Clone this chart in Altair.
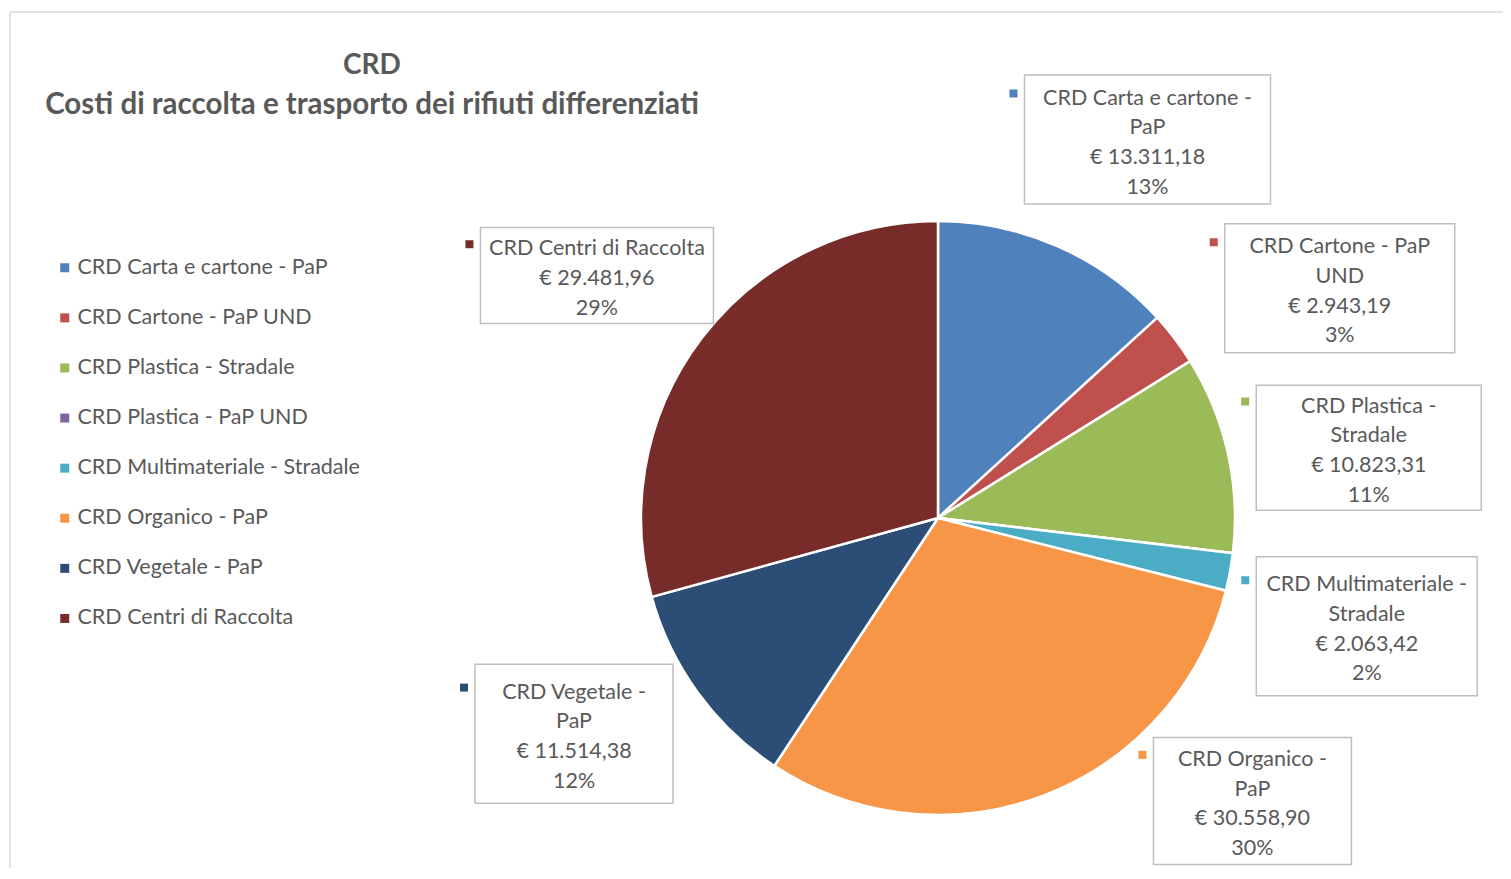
import math
import altair as alt
import pandas as pd

# ---------------- data ----------------
categories = [
    "CRD Carta e cartone - PaP",
    "CRD Cartone - PaP UND",
    "CRD Plastica - Stradale",
    "CRD Plastica - PaP UND",
    "CRD Multimateriale - Stradale",
    "CRD Organico - PaP",
    "CRD Vegetale - PaP",
    "CRD Centri di Raccolta",
]
values = [13311.18, 2943.19, 10823.31, 0.0, 2063.42, 30558.90, 11514.38, 29481.96]
title_lines = ["CRD", "Costi di raccolta e trasporto dei rifiuti differenziati"]

# ---------------- styles ----------------
colors = ["#4F81BD", "#C0504D", "#9BBB59", "#8064A2", "#4BACC6", "#F79646", "#2C4D75", "#772C2A"]
TXT = "#595959"
FONT = "Lato"

# how each label's name is wrapped inside its box (formatting only)
wrap = {
    "CRD Carta e cartone - PaP": ["CRD Carta e cartone -", "PaP"],
    "CRD Cartone - PaP UND": ["CRD Cartone - PaP", "UND"],
    "CRD Plastica - Stradale": ["CRD Plastica -", "Stradale"],
    "CRD Multimateriale - Stradale": ["CRD Multimateriale -", "Stradale"],
    "CRD Organico - PaP": ["CRD Organico -", "PaP"],
    "CRD Vegetale - PaP": ["CRD Vegetale -", "PaP"],
    "CRD Centri di Raccolta": ["CRD Centri di Raccolta"],
}
# box size (w, h) and nudge (dx, dy) from the radial anchor
box_style = {
    "CRD Carta e cartone - PaP": (246, 129, 36, 15),
    "CRD Cartone - PaP UND": (230, 129, 59, 30),
    "CRD Plastica - Stradale": (225, 125, 11, 23),
    "CRD Multimateriale - Stradale": (221, 139, 6, 30),
    "CRD Organico - PaP": (198, 127, 159, -118),
    "CRD Vegetale - PaP": (198, 139, -16, -37),
    "CRD Centri di Raccolta": (233, 96, 1, 18),
}

W, H = 1495, 860
OX, OY = 8, 8
CX, CY, R = 938 - OX, 518 - OY, 297
LR = 430
LINE_H = 29.7
LABEL_FS = 21.5

# ---------------- derived ----------------
total = sum(values)
raw = [v / total * 100 for v in values]
floors = [math.floor(r) for r in raw]
need = 100 - sum(floors)
order_rem = sorted(range(len(raw)), key=lambda i: raw[i] - floors[i], reverse=True)
pcts = floors[:]
for i in order_rem[:need]:
    pcts[i] += 1


def euro(v):
    s = f"{v:,.2f}"
    return "€ " + s.replace(",", "X").replace(".", ",").replace("X", ".")


df = pd.DataFrame({"cat": categories, "val": values, "ord": list(range(len(categories)))})

rows = []
cum = 0.0
for i, (c, v) in enumerate(zip(categories, values)):
    frac = v / total
    mid = (cum + frac / 2) * 2 * math.pi
    cum += frac
    if v <= 0:
        continue
    w, h, dx, dy = box_style[c]
    bx = CX + LR * math.sin(mid) + dx
    by = CY - LR * math.cos(mid) + dy
    lines = wrap[c] + [euro(v), f"{pcts[i]}%"]
    first_line_y = by - (len(lines) - 1) * LINE_H / 2 + 3.5
    rows.append(dict(
        cat=c, x=bx, ty=first_line_y, x1=bx - w / 2, x2=bx + w / 2, y1=by - h / 2, y2=by + h / 2,
        txt="\n".join(lines), mx=bx - w / 2 - 11, my=first_line_y - 5,
    ))
lab = pd.DataFrame(rows)

xs = alt.Scale(domain=[0, W], range=[0, W], nice=False, zero=False)
ys = alt.Scale(domain=[0, H], range=[0, H], nice=False, zero=False)
color_scale = alt.Scale(domain=categories, range=colors)

arc = alt.Chart(df).mark_arc(outerRadius=R, stroke="white", strokeWidth=2.5).encode(
    theta=alt.Theta("val:Q", stack=True),
    order=alt.Order("ord:Q"),
    color=alt.Color(
        "cat:N", scale=color_scale,
        legend=alt.Legend(
            title=None, orient="none", legendX=46, legendY=249, direction="vertical",
            symbolType="square", symbolSize=81, symbolStrokeWidth=0,
            labelFont=FONT, labelFontSize=21.5, labelColor=TXT, labelOffset=2,
            rowPadding=27.1, padding=0, labelLimit=400,
        ),
    ),
    x=alt.value(CX), y=alt.value(CY),
)

boxes = alt.Chart(lab).mark_rect(fill="white", stroke="#BFBFBF", strokeWidth=1.5).encode(
    x=alt.X("x1:Q", scale=xs, axis=None), x2="x2:Q",
    y=alt.Y("y1:Q", scale=ys, axis=None), y2="y2:Q",
)

texts = alt.Chart(lab).mark_text(
    font=FONT, fontSize=LABEL_FS, color=TXT, lineBreak="\n", lineHeight=LINE_H,
    align="center", baseline="middle",
).encode(
    x=alt.X("x:Q", scale=xs, axis=None), y=alt.Y("ty:Q", scale=ys, axis=None), text="txt:N",
)

markers = alt.Chart(lab).mark_square(size=64, opacity=1, strokeWidth=0).encode(
    x=alt.X("mx:Q", scale=xs, axis=None), y=alt.Y("my:Q", scale=ys, axis=None),
    color=alt.Color("cat:N", scale=color_scale, legend=None),
)

tdf = pd.DataFrame({"t": title_lines, "k": [0, 1]})
title1 = alt.Chart(tdf[tdf.k == 0]).mark_text(
    font=FONT, fontSize=28, fontWeight="bold", color=TXT, align="center", baseline="middle"
).encode(text="t:N", x=alt.value(372 - OX), y=alt.value(66 - OY))
title2 = alt.Chart(tdf[tdf.k == 1]).mark_text(
    font=FONT, fontSize=29.5, fontWeight="bold", color=TXT, align="center", baseline="middle"
).encode(text="t:N", x=alt.value(372 - OX), y=alt.value(105 - OY))

one = pd.DataFrame({"k": [0]})
frame_top = alt.Chart(one).mark_rule(color="#D9D9D9", strokeWidth=1.5).encode(
    x=alt.value(10 - OX), x2=alt.value(W), y=alt.value(12 - OY), y2=alt.value(12 - OY))
frame_left = alt.Chart(one).mark_rule(color="#D9D9D9", strokeWidth=1.5).encode(
    x=alt.value(10 - OX), x2=alt.value(10 - OX), y=alt.value(12 - OY), y2=alt.value(H))

chart = alt.layer(
    frame_top, frame_left, title1, title2, arc, boxes, texts, markers
).properties(
    width=W, height=H, padding=0, autosize=alt.AutoSizeParams(type="none"),
    background="white",
).configure_view(stroke=None)

chart.save("out.html", embed_options={"renderer": "svg", "actions": False})
